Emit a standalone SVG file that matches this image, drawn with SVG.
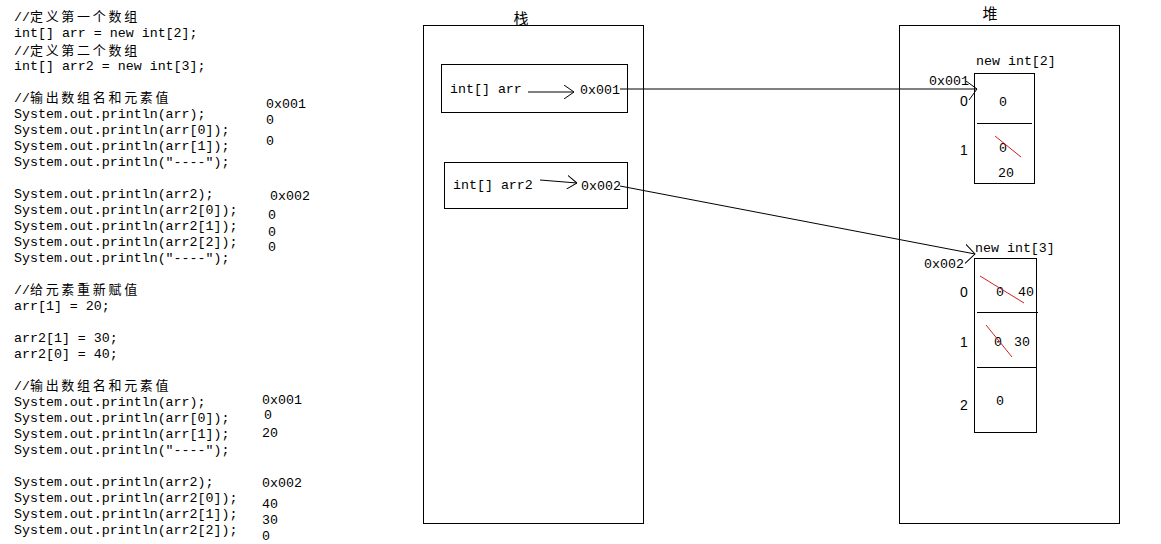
<svg xmlns="http://www.w3.org/2000/svg" width="1161" height="544" viewBox="0 0 1161 544">
<style>
.code{font-family:"Liberation Mono","Noto Sans CJK SC",monospace;font-size:13.3px;fill:#000}
.cn{font-family:"Noto Sans CJK SC",sans-serif;font-size:13px;letter-spacing:2.7px}
.idx{font-family:"Liberation Sans",sans-serif;font-size:14px;fill:#000}
.box{fill:none;stroke:#000;stroke-width:1}
.ln{stroke:#000;stroke-width:1;fill:none}
.red{stroke:#d02020;stroke-width:1}
.title{font-family:"Noto Sans CJK SC",sans-serif;font-size:15px;fill:#000}
</style>
<defs>
<marker id="small" viewBox="0 0 10 14" refX="10" refY="7" markerWidth="10" markerHeight="14" orient="auto" markerUnits="userSpaceOnUse"><path d="M0,0 L10,7 L0,14" fill="none" stroke="#000"/></marker>
<marker id="big" viewBox="0 0 12 20" refX="11" refY="8" markerWidth="12" markerHeight="20" orient="auto" markerUnits="userSpaceOnUse"><path d="M0,0 L11,8 L3,19" fill="none" stroke="#000"/></marker>
</defs>
<rect width="1161" height="544" fill="#fff"/>
<g id="code">
<text class="code" x="14" y="21">//<tspan class="cn">定义第一个数组</tspan></text>
<text class="code" x="14" y="37">int[] arr = new int[2];</text>
<text class="code" x="14" y="55">//<tspan class="cn">定义第二个数组</tspan></text>
<text class="code" x="14" y="70">int[] arr2 = new int[3];</text>
<text class="code" x="14" y="102">//<tspan class="cn">输出数组名和元素值</tspan></text>
<text class="code" x="14" y="118">System.out.println(arr);</text>
<text class="code" x="14" y="134">System.out.println(arr[0]);</text>
<text class="code" x="14" y="150">System.out.println(arr[1]);</text>
<text class="code" x="14" y="166">System.out.println("----");</text>
<text class="code" x="14" y="198">System.out.println(arr2);</text>
<text class="code" x="14" y="214">System.out.println(arr2[0]);</text>
<text class="code" x="14" y="230">System.out.println(arr2[1]);</text>
<text class="code" x="14" y="246">System.out.println(arr2[2]);</text>
<text class="code" x="14" y="262">System.out.println("----");</text>
<text class="code" x="14" y="294">//<tspan class="cn">给元素重新赋值</tspan></text>
<text class="code" x="14" y="310">arr[1] = 20;</text>
<text class="code" x="14" y="342">arr2[1] = 30;</text>
<text class="code" x="14" y="358">arr2[0] = 40;</text>
<text class="code" x="14" y="390">//<tspan class="cn">输出数组名和元素值</tspan></text>
<text class="code" x="14" y="406">System.out.println(arr);</text>
<text class="code" x="14" y="422">System.out.println(arr[0]);</text>
<text class="code" x="14" y="438">System.out.println(arr[1]);</text>
<text class="code" x="14" y="454">System.out.println("----");</text>
<text class="code" x="14" y="486">System.out.println(arr2);</text>
<text class="code" x="14" y="502">System.out.println(arr2[0]);</text>
<text class="code" x="14" y="518">System.out.println(arr2[1]);</text>
<text class="code" x="14" y="534">System.out.println(arr2[2]);</text>
</g>
<g id="outputs">
<text class="code" x="266" y="108">0x001</text>
<text class="code" x="266" y="124">0</text>
<text class="code" x="266" y="145">0</text>
<text class="code" x="270" y="200">0x002</text>
<text class="code" x="268" y="219">0</text>
<text class="code" x="268" y="236">0</text>
<text class="code" x="268" y="251">0</text>
<text class="code" x="262" y="404">0x001</text>
<text class="code" x="264" y="419">0</text>
<text class="code" x="262" y="437">20</text>
<text class="code" x="262" y="487">0x002</text>
<text class="code" x="262" y="508">40</text>
<text class="code" x="262" y="524">30</text>
<text class="code" x="262" y="540">0</text>
</g>
<g id="stack">
<rect class="box" x="423.5" y="25.5" width="220" height="498"/>
<text class="title" x="521" y="24" text-anchor="middle">栈</text>
</g>
<g id="var-arr">
<rect class="box" x="441.5" y="64.5" width="186" height="48"/>
<text class="code" x="450" y="93">int[] arr</text>
<line class="ln" x1="528" y1="92" x2="574" y2="92" marker-end="url(#small)"/>
<text class="code" x="580" y="94">0x001</text>
</g>
<g id="var-arr2">
<rect class="box" x="444.5" y="162.5" width="183" height="46"/>
<text class="code" x="453" y="189">int[] arr2</text>
<line class="ln" x1="540" y1="180" x2="577" y2="183" marker-end="url(#small)"/>
<text class="code" x="581" y="190">0x002</text>
</g>
<g id="heap">
<rect class="box" x="899.5" y="25.5" width="220" height="498"/>
<text class="title" x="990" y="19" text-anchor="middle">堆</text>
</g>
<g id="array1">
<text class="code" x="976" y="65">new int[2]</text>
<text class="code" x="929" y="85">0x001</text>
<rect class="box" x="974.5" y="73.5" width="60" height="110"/>
<line class="ln" x1="977" y1="123.5" x2="1032" y2="123.5"/>
<text class="idx" x="960" y="106">0</text>
<text class="idx" x="960" y="155">1</text>
<text class="code" x="999" y="106">0</text>
<text class="code" x="999" y="152">0</text>
<line class="red" x1="995" y1="136" x2="1021" y2="157"/>
<text class="code" x="998" y="177">20</text>
</g>
<g id="array2">
<text class="code" x="975" y="252">new int[3]</text>
<text class="code" x="924" y="268">0x002</text>
<rect class="box" x="974.5" y="258.5" width="62" height="174"/>
<line class="ln" x1="977" y1="312.5" x2="1038" y2="312.5"/>
<line class="ln" x1="977" y1="367.5" x2="1036" y2="367.5"/>
<text class="idx" x="960" y="297">0</text>
<text class="idx" x="960" y="347">1</text>
<text class="idx" x="960" y="410">2</text>
<text class="code" x="996" y="296">0</text>
<text class="code" x="1018" y="296">40</text>
<line class="red" x1="980" y1="276" x2="1024" y2="303"/>
<text class="code" x="994" y="346">0</text>
<text class="code" x="1014" y="346">30</text>
<line class="red" x1="986" y1="325" x2="1012" y2="357"/>
<text class="code" x="996" y="405">0</text>
</g>
<g id="connectors">
<line class="ln" x1="620" y1="89" x2="977" y2="89" marker-end="url(#big)"/>
<line class="ln" x1="620" y1="186" x2="975" y2="254" marker-end="url(#big)"/>
</g>
</svg>
